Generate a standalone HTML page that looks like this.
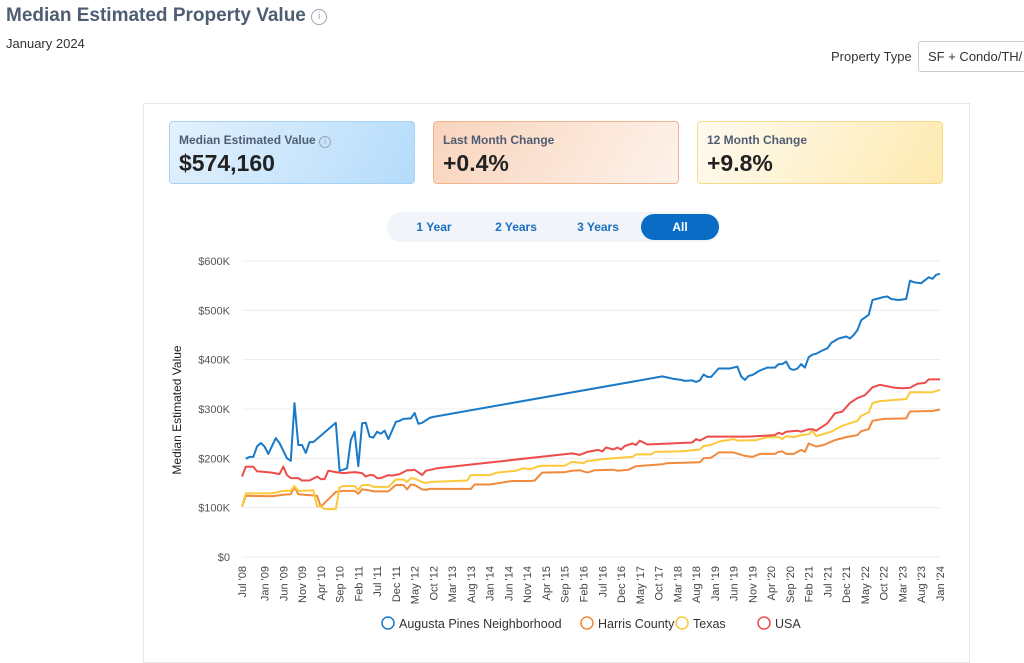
<!DOCTYPE html>
<html><head><meta charset="utf-8"><style>
body{margin:0;width:1024px;height:654px;overflow:hidden;background:#fff;font-family:"Liberation Sans",sans-serif;position:relative}
.abs{position:absolute}
.title{left:6px;top:5px;font-size:19px;font-weight:bold;color:#4f5d73}
.sub{left:6px;top:36px;font-size:13px;color:#333}
.card{top:121px;width:246px;height:63px;border-radius:4px;box-sizing:border-box}
.card .l{position:absolute;left:9px;top:11px;font-size:12px;font-weight:bold;color:#4f5d73}
.card .v{position:absolute;left:9px;top:28px;font-size:23px;font-weight:bold;color:#222}
.tab{top:212px;height:30px;line-height:30px;font-size:12px;color:#1a6fc0;text-align:center;font-weight:bold}
</style></head><body>
<div class="abs title">Median Estimated Property Value <span style="display:inline-block;width:14px;height:14px;border:1px solid #9aa4b2;border-radius:50%;font-size:10px;line-height:14px;text-align:center;color:#9aa4b2;font-weight:normal;vertical-align:2px">i</span></div>
<div class="abs sub">January 2024</div>
<div class="abs" style="left:831px;top:49px;font-size:13px;color:#333">Property Type</div>
<div class="abs" style="left:918px;top:41px;width:120px;height:31px;border:1px solid #ccc;border-radius:3px;box-sizing:border-box;font-size:13px;line-height:29px;padding-left:9px;color:#333;white-space:nowrap">SF + Condo/TH/</div>
<div class="abs" style="left:143px;top:103px;width:827px;height:560px;border:1px solid #e6e9ee;box-sizing:border-box"></div>
<div class="abs card" style="left:169px;background:linear-gradient(120deg,#e3f1fd,#b5dcfb);border:1px solid #a6d2f5"><div class="l">Median Estimated Value <span style="display:inline-block;width:10px;height:10px;border:1px solid #9aa4b2;border-radius:50%;font-size:8px;line-height:10px;text-align:center;color:#9aa4b2;font-weight:normal">i</span></div><div class="v">$574,160</div></div>
<div class="abs card" style="left:433px;background:linear-gradient(120deg,#f9d4bd,#fdf2ea);border:1px solid #f3b48c"><div class="l">Last Month Change</div><div class="v">+0.4%</div></div>
<div class="abs card" style="left:697px;background:linear-gradient(120deg,#fffaf0,#fdeab0);border:1px solid #f6dc8a"><div class="l">12 Month Change</div><div class="v">+9.8%</div></div>
<div class="abs" style="left:387px;top:212px;width:333px;height:30px;border-radius:15px;background:#f1f4f8"></div>
<div class="abs tab" style="left:405px;width:58px">1 Year</div>
<div class="abs tab" style="left:483px;width:66px">2 Years</div>
<div class="abs tab" style="left:565px;width:66px">3 Years</div>
<div class="abs tab" style="left:641px;top:214px;height:26px;line-height:26px;width:78px;border-radius:13px;background:#0a6cc4;color:#fff">All</div>
<svg class="abs" style="left:0;top:0" width="1024" height="654" id="chart"></svg>
<script>
const yTicks=[0,100,200,300,400,500,600];
const xLabels=["Jul '08","Jan '09","Jun '09","Nov '09","Apr '10","Sep '10","Feb '11","Jul '11","Dec '11","May '12","Oct '12","Mar '13","Aug '13","Jan '14","Jun '14","Nov '14","Apr '15","Sep '15","Feb '16","Jul '16","Dec '16","May '17","Oct '17","Mar '18","Aug '18","Jan '19","Jun '19","Nov '19","Apr '20","Sep '20","Feb '21","Jul '21","Dec '21","May '22","Oct '22","Mar '23","Aug '23","Jan '24"];
const xLabelMonths=[0,6,11,16,21,26,31,36,41,46,51,56,61,66,71,76,81,86,91,96,101,106,111,116,121,126,131,136,141,146,151,156,161,166,171,176,181,186];
const augustaMonths=[1,2,3,4,5,6,7,9,10,12,13,14,15,16,17,18,19,25,26,27,28,29,30,31,32,33,34,35,36,37,38,39,41,42,43,45,46,47,48,50,51,112,115,117,118,120,121,122,123,124,125,127,128,130,132,133,134,135,136,138,140,142,143,144,145,146,147,148,149,150,151,152,153,155,156,157,159,161,162,163,164,165,167,168,170,171,172,173,175,177,178,179,181,183,184,185,186];
const augustaValues=[199,203,203,224,231,224,209,241,231,200,195,312,227,227,211,233,233,272,175,177,180,237,254,184,271,272,244,242,254,250,256,239,274,276,280,281,292,270,272,282,284,366,361,359,357,358,355,358,370,365,365,382,382,382,386,366,359,367,369,378,384,384,391,391,396,382,379,382,391,384,405,410,412,420,423,434,443,447,443,450,460,480,491,521,525,527,528,523,521,523,560,557,555,567,564,572,574];
const harrisMonths=[0,1,8,11,13,14,15,20,21,25,27,30,31,32,34,35,39,41,43,44,45,46,48,49,50,61,62,66,72,77,78,80,86,88,90,92,94,99,100,103,105,112,113,122,123,125,127,131,134,136,138,142,143,144,145,147,149,150,151,153,155,158,161,164,165,167,168,171,177,178,184,186];
const harrisValues=[102,124,123,126,127,142,127,124,102,132,134,134,128,137,135,133,133,146,146,137,147,146,137,136,138,138,147,147,154,154,155,171,172,175,176,171,176,177,175,177,184,188,190,192,200,201,212,212,205,203,209,209,213,214,209,209,217,213,230,224,227,237,243,247,255,259,276,280,281,295,296,299];
const texasMonths=[0,1,8,11,13,14,15,19,20,21,22,25,26,27,30,31,32,34,35,39,41,43,44,45,46,48,49,50,60,61,66,68,73,75,77,79,80,86,88,91,92,93,96,99,104,105,109,110,117,122,123,125,127,131,132,137,140,143,144,145,147,149,151,152,153,154,157,160,162,164,165,167,168,170,177,178,184,186];
const texasValues=[102,129,129,134,134,144,134,135,103,103,97,97,141,144,144,136,146,146,142,142,157,157,152,160,159,152,150,152,155,166,166,171,175,180,178,184,185,185,193,190,195,195,198,200,203,208,208,213,214,218,225,227,234,239,236,237,243,243,239,245,243,247,249,256,245,247,254,266,271,276,286,293,312,316,320,334,334,339];
const usaMonths=[0,1,3,4,8,10,11,12,13,15,16,18,20,21,22,23,25,27,30,32,33,34,35,36,37,38,39,40,42,44,45,46,48,49,51,52,88,90,92,95,96,97,99,100,101,102,104,105,106,108,120,121,122,124,135,142,143,144,145,148,149,151,152,153,156,158,160,162,164,166,168,170,174,176,178,180,182,183,186];
const usaValues=[163,183,183,174,171,168,183,166,160,160,155,155,163,158,158,175,172,170,172,170,163,166,166,160,160,163,166,165,168,176,176,177,166,175,178,180,210,207,213,217,214,222,218,222,218,225,230,227,236,228,232,239,236,244,244,247,252,249,254,256,254,259,259,256,271,291,295,312,322,328,344,349,343,342,343,351,353,360,360];
const NS='http://www.w3.org/2000/svg';
const svg=document.getElementById('chart');
const X0=242,X1=940,Y0=557,Y1=261,MMAX=186,VMAX=600;
function xs(m){return X0+(X1-X0)*m/MMAX;}
function ys(v){return Y0-(Y0-Y1)*v/VMAX;}
function mk(t,a){const e=document.createElementNS(NS,t);for(const k in a)e.setAttribute(k,a[k]);svg.appendChild(e);return e;}
yTicks.forEach(v=>{
  const g=mk('line',{x1:X0,x2:X1,y1:ys(v),y2:ys(v),stroke:'#ececec','stroke-width':1});
  
  
  const t=mk('text',{x:230,y:ys(v)+4,'text-anchor':'end','font-size':11,fill:'#555','font-family':'Liberation Sans'});
  t.textContent='$'+v+(v?'K':'');
  
  
});
xLabels.forEach((l,i)=>{
  const x=xs(xLabelMonths[i]);
  const t=mk('text',{transform:`translate(${x+4},566) rotate(-90)`,'text-anchor':'end','font-size':11,fill:'#444','font-family':'Liberation Sans'});
  t.textContent=l;
  
  
});
const yt=mk('text',{transform:'translate(181,410) rotate(-90)','text-anchor':'middle','font-size':12,fill:'#222','font-family':'Liberation Sans'});
yt.textContent='Median Estimated Value';


const series=[[harrisMonths,harrisValues,'#f08a3c','harris-county-line'],[texasMonths,texasValues,'#fcc93a','texas-line'],[usaMonths,usaValues,'#ee4b4b','usa-line'],[augustaMonths,augustaValues,'#1a7ac8','augusta-pines-line']];
series.forEach(s=>{
  const d=s[0].map((m,i)=>(i?'L':'M')+xs(m).toFixed(1)+','+ys(s[1][i]).toFixed(1)).join('');
  const p=mk('path',{d:d,fill:'none',stroke:s[2],'stroke-width':2,'stroke-linejoin':'round'});
  
  
});
const legend=[['Augusta Pines Neighborhood','#1a7ac8',388],['Harris County','#f08a3c',587],['Texas','#fcc93a',682],['USA','#ee4b4b',764]];
legend.forEach(l=>{
  const c=mk('circle',{cx:l[2],cy:623,r:6,fill:'none',stroke:l[1],'stroke-width':1.5});
  
  
  const t=mk('text',{x:l[2]+11,y:628,'font-size':12.5,fill:'#333','font-family':'Liberation Sans'});
  t.textContent=l[0];
  
  
});
</script>
</body></html>
